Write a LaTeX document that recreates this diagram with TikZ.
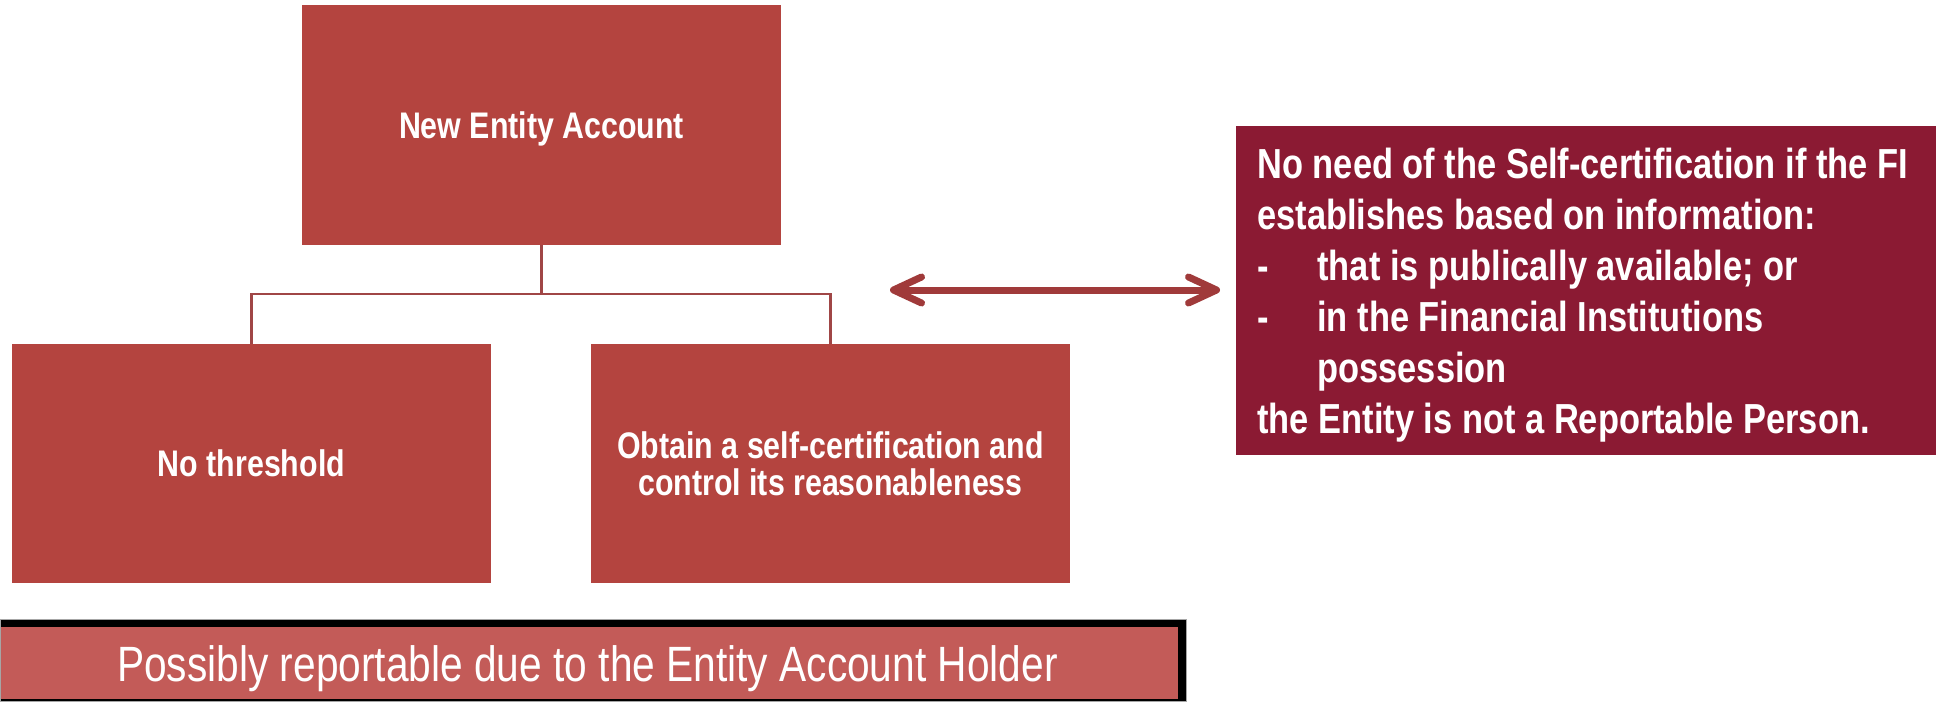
\documentclass[tikz,border=0pt]{standalone}
\usepackage{fontspec}
\newfontfamily\narrow[FakeStretch=0.82]{Liberation Sans}
\usetikzlibrary{arrows.meta}
\definecolor{boxred}{RGB}{180,68,63}
\definecolor{wine}{RGB}{139,26,51}
\definecolor{barred}{RGB}{195,91,88}
\definecolor{arrowred}{RGB}{160,58,58}
\definecolor{connred}{RGB}{160,70,70}
\begin{document}
\begin{tikzpicture}[x=0.5pt,y=-0.5pt,
  redbox/.style={fill=boxred, draw=none, text=white, inner sep=0pt,
    minimum width=239.5pt, minimum height=119.5pt, align=center,
    font={\narrow\bfseries\fontsize{18.5}{18.5}\selectfont}},
  conn/.style={draw=connred, line width=1.3pt}
]
\useasboundingbox (0,0) rectangle (1936,701);

% tree
\node[redbox, minimum height=120pt, text depth=0pt] (top) at (541.5,125) {New Entity Account};
\node[redbox] (nothr) at (251.5,463.5) {No threshold};
\node[redbox] (obtain) at (830.5,463.5) {Obtain a self-certification and\\control its reasonableness};
\coordinate (junction) at (541.5,294);
\draw[conn] (top.south) -- (junction);
\draw[conn] (nothr.north) |- (junction) -| (obtain.north);

% double arrow
\coordinate (al) at (890,290);
\coordinate (ar) at (1220,290);
\draw[draw=arrowred, line width=3.5pt,
  {Straight Barb[length=14pt, width=13pt, line cap=round, line join=round]}-{Straight Barb[length=14pt, width=13pt, line cap=round, line join=round]}]
  (al) -- (ar);

% condition box
\node[fill=wine, minimum width=350pt, minimum height=164.5pt, inner sep=0pt, anchor=north west] (cond) at (1236,126) {};
\node[anchor=north west, inner sep=0pt, text=white, align=left,
  font={\narrow\bfseries\fontsize{21}{25.5}\selectfont}] (condtext) at (1257,147.5)
  {No need of the Self-certification if the FI\\
   establishes based on information:\\
   \makebox[30pt][l]{-}that is publically available; or\\
   \makebox[30pt][l]{-}in the Financial Institutions\\
   \hspace*{30pt}possession\\
   the Entity is not a Reportable Person.};

% bottom bar
\node[fill=black, draw=gray!70, line width=0.4pt, anchor=north west, minimum width=593pt, minimum height=41pt, inner sep=0pt] (barshadow) at (0,619) {};
\node[fill=barred, anchor=north west, minimum width=588.5pt, minimum height=36pt, inner sep=0pt] (bar) at (1,627) {};
\node[anchor=base, text=white, inner sep=0pt, font={\narrow\fontsize{24.8}{24.8}\selectfont}] (bartext) at (587.5,681) {Possibly reportable due to the Entity Account Holder};
\end{tikzpicture}
\end{document}
